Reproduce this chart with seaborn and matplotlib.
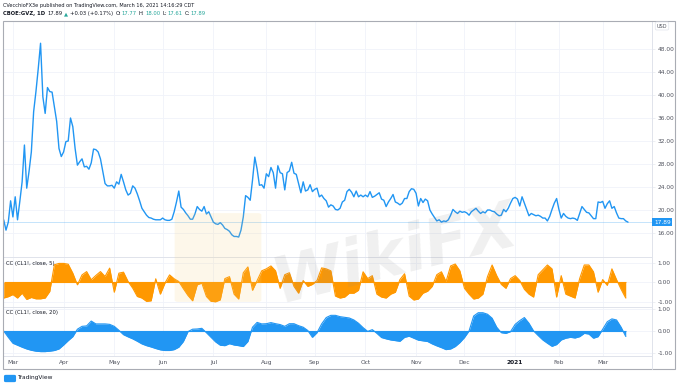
# GVZ (gold volatility) with correlation vs crude oil, TradingView style

import numpy as np
import pandas as pd
import seaborn as sns
import matplotlib.pyplot as plt
from matplotlib.patches import Rectangle, FancyBboxPatch
from matplotlib.lines import Line2D

# Daily closes of CBOE:GVZ (25 Feb 2020 - 16 Mar 2021)
gvz = [18.3, 16.5, 17.9, 21.6, 18.8, 22.3, 18.3, 21.5, 24.9, 31.3,
       23.8, 26.7, 30.1, 37.1, 40.6, 44.6, 49.0, 39.7, 36.8, 41.3,
       40.6, 40.5, 38.0, 35.4, 30.7, 29.3, 30.1, 31.9, 32.0, 36.0,
       34.5, 30.7, 27.8, 28.4, 28.9, 27.5, 27.6, 27.1, 28.2, 30.6,
       30.5, 30.1, 28.9, 26.7, 24.6, 24.2, 24.2, 24.3, 23.8, 24.9,
       24.5, 26.2, 24.9, 23.5, 22.6, 22.9, 24.2, 23.8, 22.8, 21.6,
       20.3, 19.7, 19.1, 18.7, 18.6, 18.4, 18.3, 18.3, 18.3, 18.6,
       18.3,
       18.2, 18.2, 18.4, 19.7, 21.4, 23.3, 20.5, 20.1, 19.5, 19.0,
       18.4, 18.4, 19.3, 20.6, 20.1, 19.8, 20.6, 19.3, 19.7, 18.8,
       17.9, 17.6, 17.5, 17.8, 17.4, 16.8, 16.6, 16.3, 15.7, 15.4,
       15.4, 15.3, 16.5, 18.8, 22.5, 22.2, 21.7, 25.2, 29.2, 27.1,
       24.3, 24.4, 23.8, 26.3, 25.8, 27.4, 26.5, 23.8, 27.7, 26.5,
       26.3, 23.5, 26.5, 26.8, 28.3, 26.4, 26.2, 24.6, 23.0, 24.9,
       23.3, 23.5, 24.4, 23.2, 23.6, 23.8, 22.3, 22.6, 22.0, 21.6,
       20.5, 20.9, 20.7,
       20.1, 20.0, 20.3, 21.4, 21.7, 23.2, 23.6, 23.1, 22.3, 23.3,
       22.3, 22.6, 22.3, 22.6, 22.3, 23.2, 22.2, 22.4, 22.7, 23.0,
       21.9, 21.7, 20.6, 21.4, 22.0, 22.7, 21.4, 21.2, 20.9, 21.2,
       22.0, 22.0, 23.2, 23.7, 23.6, 22.9, 20.7, 22.0, 21.3, 21.9,
       21.6, 20.0, 19.3, 18.7, 18.1, 18.3, 17.9, 18.1, 18.0, 18.3,
       19.1, 20.1, 19.7, 19.4, 19.8, 19.6, 19.7, 19.5, 19.1, 19.7,
       20.0, 20.3, 19.8, 19.4, 19.7, 19.5, 20.0, 20.0, 19.8, 19.7,
       19.3,
       19.0, 19.1, 20.1, 19.7, 20.3, 21.2, 22.0, 22.2, 21.9, 20.7,
       22.3, 21.2, 20.1, 19.0, 19.4, 19.2, 19.0, 19.1, 18.9, 18.6,
       18.6, 18.1, 18.9, 20.1, 21.2, 22.0, 20.1, 18.6, 19.4, 18.9,
       18.6, 18.5, 18.6, 18.5, 18.2, 19.4, 20.6, 20.1, 19.6, 19.5,
       19.0, 18.5, 18.5, 21.4, 21.3, 21.5, 20.3, 21.1, 21.6, 20.3,
       20.6, 19.5, 18.6, 18.5, 18.5, 18.1, 17.89]

# CC(CL1!, close, 5), every second bar
cc5 = [-0.80, -0.73, -0.62, -0.80, -0.55, -0.87, -0.77, -0.84, -0.84, -0.80,
       -0.46, 0.91, 0.98, 0.98, 0.94, 0.48, -0.12, 0.39, 0.56, 0.14,
       0.36, 0.56, 0.31, 0.74, -0.50, 0.48, 0.53, 0.05, -0.29, -0.72,
       -0.80, -0.97, -0.94, 0.19, -0.60, -0.03, 0.39, 0.19, 0.05, -0.32,
       -0.67, -0.94, -0.12, -0.03, -0.72, -0.97, -0.99,
       -0.89, 0.20, 0.30, -0.60, -0.85, 0.50, 0.80, -0.40, 0.10, 0.60,
       0.70, 0.85, 0.60, -0.30, 0.40, 0.50, -0.20, -0.55, 0.10, -0.20,
       -0.10, 0.10, 0.75, 0.70, 0.60, -0.70,
       -0.80, -0.75, -0.55, -0.55, -0.40, 0.55, 0.20, 0.35, -0.60, -0.75,
       -0.80, -0.60, -0.50, 0.15, 0.45, -0.70, -0.90, -0.85, -0.55, -0.45,
       -0.20, 0.40, 0.55, 0.05, 0.85, 0.95, 0.60, -0.30, -0.60, -0.85,
       -0.80, -0.60, 0.30, 0.90, 0.35, -0.10, -0.30, 0.20, 0.35, 0.10,
       -0.35, -0.60, -0.75, 0.40, 0.65, 0.90, 0.70, -0.75, 0.35, -0.60,
       -0.70, -0.80, 0.20, 0.90, 0.90, 0.55, -0.50, 0.15, -0.15, 0.70,
       0.15, -0.35, -0.80]

# CC(CL1!, close, 20), every second bar
cc20 = [0.00, -0.29, -0.56, -0.65, -0.74, -0.82, -0.88, -0.92, -0.94, -0.94,
        -0.92, -0.89, -0.82, -0.64, -0.44, -0.26, 0.08, 0.21, 0.23, 0.45,
        0.32, 0.32, 0.32, 0.30, 0.21, 0.03, -0.17, -0.27, -0.36, -0.47,
        -0.59, -0.67, -0.73, -0.80, -0.86, -0.89, -0.89, -0.85, -0.74, -0.48,
        -0.03, 0.08, 0.09, 0.12, -0.08, -0.29, -0.50, -0.65, -0.67, -0.58,
        -0.64, -0.67, -0.71, -0.48, 0.17, 0.39, 0.32, 0.33, 0.38, 0.33,
        0.29, 0.21, 0.33, 0.33, 0.24, 0.17, 0.02, -0.29, -0.08, 0.32,
        0.61, 0.71, 0.71,
        0.65, 0.62, 0.59, 0.50, 0.35, 0.15, -0.02, 0.06, -0.11, -0.30,
        -0.36, -0.41, -0.44, -0.47, -0.29, -0.24, -0.33, -0.42, -0.45, -0.48,
        -0.59, -0.68, -0.76, -0.85, -0.82, -0.71, -0.53, -0.30, 0.00, 0.68,
        0.83, 0.83, 0.76, 0.58, 0.17, -0.08, -0.11, -0.03, 0.30, 0.47,
        0.61, 0.35, 0.00, -0.21, -0.41, -0.56, -0.70, -0.62, -0.41, -0.33,
        -0.29, -0.32, -0.26, -0.11, -0.14, -0.33, -0.26, 0.08, 0.42, 0.55,
        0.50, 0.17, -0.25]

holidays = ['2020-12-25', '2021-01-01', '2021-01-18', '2021-02-15']
price_ticks = [16, 20, 24, 28, 32, 36, 40, 44, 48]
cc_ticks = [-1, 0, 1]
last_close = 17.89

BLUE = '#2196f3'
ORANGE = '#ff9800'
GRID = '#f0f3fa'
SEP = '#e0e3eb'
TXT = '#131722'
AXTXT = '#50535e'
GREEN = '#26a69a'

# bars (TradingView skips non-trading days, so x is the bar number)
dates = pd.bdate_range('2020-02-25', '2021-03-16', freq='C', holidays=holidays)
price = pd.DataFrame({'bar': np.arange(len(gvz)), 'close': gvz})
osc = pd.DataFrame({'bar': np.arange(0, len(gvz), 2)[:len(cc5)], 'cc5': cc5, 'cc20': cc20})

# first bar of each month -> time axis labels
months = dates.to_period('M')
first = np.flatnonzero(months[1:] != months[:-1]) + 1
mlabels = ['2021' if dates[i].month == 1 else dates[i].strftime('%b') for i in first]

sns.set_style('white')
plt.rcParams['font.family'] = ['DejaVu Sans']

W, H = 680, 386
fig = plt.figure(figsize=(W / 100, H / 100), dpi=100)


def rect(x0, y0, x1, y1):
    return [x0 / W, 1 - y1 / H, (x1 - x0) / W, (y1 - y0) / H]


ax = fig.add_axes(rect(3, 21, 652, 257))
ax5 = fig.add_axes(rect(3, 257, 652, 307), sharex=ax)
ax20 = fig.add_axes(rect(3, 307, 652, 356), sharex=ax)

# price pane
sns.lineplot(data=price, x='bar', y='close', ax=ax, color=BLUE, lw=1.0)
ax.axhline(last_close, color=BLUE, lw=0.6, alpha=0.3)
ax.set_ylim(11.83, 52.87)
ax.set_yticks(price_ticks)
ax.set_yticklabels([f'{t:.2f}' for t in price_ticks])

# CC panes
ax5.fill_between(osc['bar'], 0, osc['cc5'], color=ORANGE, lw=0)
sns.lineplot(data=osc, x='bar', y='cc5', ax=ax5, color=ORANGE, lw=0.8)
ax5.hlines(0, osc['bar'].min(), osc['bar'].max(), color=ORANGE, lw=0.8)
ax5.set_ylim(-1.26, 1.31)

ax20.fill_between(osc['bar'], 0, osc['cc20'], color=BLUE, lw=0)
sns.lineplot(data=osc, x='bar', y='cc20', ax=ax20, color=BLUE, lw=0.8)
ax20.hlines(0, osc['bar'].min(), osc['bar'].max(), color=BLUE, lw=0.8)
ax20.set_ylim(-1.14, 1.09)

for a in (ax5, ax20):
    a.set_yticks(cc_ticks)
    a.set_yticklabels([f'{t:.2f}' for t in cc_ticks])

for a in (ax, ax5, ax20):
    a.set_xlim(-0.3, 281.4)
    a.set_xlabel('')
    a.set_ylabel('')
    a.yaxis.tick_right()
    a.tick_params(axis='y', length=2, width=0.4, color=SEP, pad=2,
                  labelsize=4.2, labelcolor=AXTXT)
    a.tick_params(axis='x', length=0)
    a.grid(True, color=GRID, lw=0.6)
    a.set_axisbelow(True)
    for s in a.spines.values():
        s.set_color(SEP)
        s.set_linewidth(0.7)
    a.spines['left'].set_visible(False)

ax.spines['top'].set_visible(False)
ax.spines['bottom'].set_visible(False)
ax5.spines['bottom'].set_visible(False)
ax20.set_xticks(first)
ax20.set_xticklabels(mlabels)
ax20.tick_params(axis='x', pad=3, labelsize=4.2, labelcolor=AXTXT)
for lab in ax20.get_xticklabels():
    if lab.get_text() == '2021':
        lab.set_fontweight('bold')
        lab.set_color(TXT)
plt.setp(ax.get_xticklabels(), visible=False)
plt.setp(ax5.get_xticklabels(), visible=False)

# indicator titles
ax5.annotate('CC (CL1!, close, 5)', xy=(0, 1), xycoords='axes fraction',
             xytext=(3, -4), textcoords='offset pixels', va='top',
             fontsize=3.8, color=TXT)
ax20.annotate('CC (CL1!, close, 20)', xy=(0, 1), xycoords='axes fraction',
              xytext=(3, -3), textcoords='offset pixels', va='top',
              fontsize=3.8, color=TXT)

# last price tag and currency
ax.text(1.003, last_close, f'{last_close:.2f}', transform=ax.get_yaxis_transform(),
        va='center', ha='left', fontsize=4.2, color='white',
        bbox=dict(boxstyle='square,pad=0.25', fc=BLUE, ec='none'))
fig.text(662 / W, 1 - 26 / H, 'USD', ha='center', va='center', fontsize=3.6,
         color=AXTXT, bbox=dict(boxstyle='round,pad=0.3', fc='white', ec=SEP, lw=0.5))

# outer frame and time axis divider
fig.add_artist(Rectangle((3 / W, 1 - 369 / H), 672 / W, 348 / H,
                         transform=fig.transFigure, fill=False, ec='#a9acb4', lw=0.8))
fig.add_artist(Line2D([652 / W, 652 / W], [1 - 369 / H, 1 - 356 / H],
                      transform=fig.transFigure, color=SEP, lw=0.7))

# watermark
fig.add_artist(FancyBboxPatch((178 / W, 1 - 300 / H), 80 / W, 85 / H,
                              boxstyle='round,pad=0.005', transform=fig.transFigure,
                              fc='#f7cf78', ec='none', alpha=0.15))
fig.text(395 / W, 1 - 255 / H, 'WikiFX', fontsize=46, fontweight='bold',
         style='italic', color='#8a8a8a', alpha=0.13, rotation=14,
         ha='center', va='center')

# header
fig.text(3 / W, 1 - 5 / H, 'CVecchioFX3e published on TradingView.com, March 16, 2021 14:16:29 CDT',
         fontsize=3.6, color=TXT, va='center')
parts = [('CBOE:GVZ, 1D', TXT, 'bold'), ('17.89', TXT, 'normal'), ('▲', GREEN, 'normal'),
         ('+0.03 (+0.17%)', TXT, 'normal'), ('O:', TXT, 'normal'), ('17.77', GREEN, 'normal'),
         ('H:', TXT, 'normal'), ('18.00', GREEN, 'normal'), ('L:', TXT, 'normal'),
         ('17.61', GREEN, 'normal'), ('C:', TXT, 'normal'), ('17.89', GREEN, 'normal')]
prev = fig.text(3 / W, 1 - 16 / H, parts[0][0], color=parts[0][1], fontweight=parts[0][2],
                fontsize=3.8, va='bottom')
for txt, col, wt in parts[1:]:
    gap = 0.3 if prev.get_text().endswith(':') else 1.5
    prev = ax.annotate(txt, xy=(1, 0), xycoords=prev, xytext=(gap, 0),
                       textcoords='offset points', color=col, fontweight=wt,
                       fontsize=3.8, va='bottom', ha='left', annotation_clip=False)

# footer
fig.text(17 / W, 1 - 378 / H, 'TradingView', fontsize=4.2, color=TXT, va='center')
fig.add_artist(FancyBboxPatch((6 / W, 1 - 381 / H), 8 / W, 5 / H,
                              boxstyle='round,pad=0.003', transform=fig.transFigure,
                              fc='#2196f3', ec='none'))

plt.savefig('out.png', dpi=100)
